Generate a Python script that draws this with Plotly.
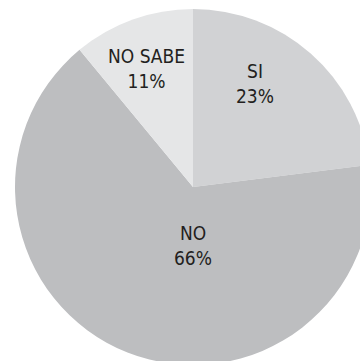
import plotly.graph_objects as go

labels = ["SI", "NO", "NO SABE"]
values = [23, 66, 11]
colors = ["#d1d2d4", "#bdbec0", "#e5e6e7"]
# label anchor points (pixels in the reference picture)
label_px = {"SI": (255, 83), "NO": (193, 245), "NO SABE": (146, 68)}

W, H = 380, 370
cx, cy, r = 193, 187, 178

fig = go.Figure(go.Pie(
    labels=labels,
    values=values,
    sort=False,
    direction="clockwise",
    rotation=0,
    marker=dict(colors=colors, line=dict(width=0)),
    textinfo="none",
    hoverinfo="skip",
    domain=dict(x=[(cx - r) / W, (cx + r) / W], y=[(H - cy - r) / H, (H - cy + r) / H]),
))
total = sum(values)
for lab, val in zip(labels, values):
    px, py = label_px[lab]
    fig.add_annotation(
        x=px / W, y=1 - py / H, xref="paper", yref="paper",
        text=f"{lab}<br>{round(100 * val / total)}%",
        showarrow=False, xanchor="center", yanchor="middle",
        font=dict(family="DejaVu Sans Condensed, Liberation Sans", size=19, color="#231f20"),
    )
fig.update_layout(
    width=W, height=H,
    margin=dict(l=0, r=0, t=0, b=0),
    showlegend=False,
    paper_bgcolor="white",
)
fig.write_html("out.html", config={"displayModeBar": False},
               post_script="document.body.style.margin='0';document.body.style.overflow='hidden';")
